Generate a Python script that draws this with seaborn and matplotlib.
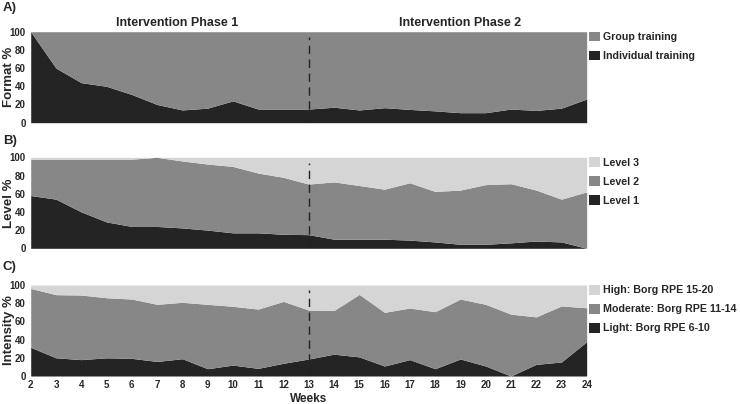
import matplotlib
matplotlib.use("Agg")
import matplotlib.pyplot as plt
from matplotlib.patches import Patch
import seaborn as sns
import pandas as pd

weeks = list(range(2, 25))

# Panel A: format (%)
individual = [100, 60, 44, 40, 31, 20, 14, 16, 24, 15, 15, 15, 17, 14, 16.5, 14.6, 13, 11, 11, 15, 13.5, 16, 26]
group = [100 - v for v in individual]

# Panel B: level (%)
level1 = [58, 54, 40, 29, 24, 24, 22.4, 20, 17, 17, 15.4, 15, 10, 10, 10, 9, 7, 4.4, 4.4, 6, 8, 7, 0]
level12_top = [98, 98, 98, 98, 98, 100, 96, 92.6, 90, 82.7, 78, 70.6, 73, 69, 65, 72, 62.5, 64, 70, 71, 64, 54, 62]
level2 = [t - b for t, b in zip(level12_top, level1)]
level3 = [100 - t for t in level12_top]

# Panel C: intensity (%)
light = [31.5, 20, 18, 20, 19.4, 16, 19, 8, 12, 8.4, 14, 18.7, 24, 21, 11, 18, 8, 18.7, 11, 0, 12.8, 15.4, 37.7]
lm_top = [96.3, 89.4, 89, 86, 84.6, 78.8, 81, 78.8, 76.6, 73.6, 82, 72.5, 72, 89.7, 70, 74.7, 70.7, 84.6, 78.8, 68, 65, 77, 75]
moderate = [t - b for t, b in zip(lm_top, light)]
high = [100 - t for t in lm_top]

ytick_vals = [0, 20, 40, 60, 80, 100]
phase_titles = ["Intervention Phase 1", "Intervention Phase 2"]

sns.set_theme(style="white")
plt.rcParams['font.family'] = ['Liberation Sans', 'DejaVu Sans']
plt.rcParams['font.weight'] = 'bold'

dark = "#242424"
mid = "#878787"
lite = "#d5d5d5"

fig = plt.figure(figsize=(7.4, 4.04), dpi=100)
left, width, h = 0.0415, 0.7513, 0.2252
bottoms = [0.6963, 0.3854, 0.0693]
letter_y = [0.980, 0.651, 0.339]
axes = [fig.add_axes([left, b, width, h]) for b in bottoms]

df = pd.DataFrame({"week": weeks, "individual": individual, "group": group,
                   "level1": level1, "level2": level2, "level3": level3,
                   "light": light, "moderate": moderate, "high": high})

panels = [
    (["individual", "group"], [dark, mid], ["Group training", "Individual training"], [mid, dark], "Format %", "A)"),
    (["level1", "level2", "level3"], [dark, mid, lite], ["Level 3", "Level 2", "Level 1"], [lite, mid, dark], "Level %", "B)"),
    (["light", "moderate", "high"], [dark, mid, lite],
     ["High: Borg RPE 15-20", "Moderate: Borg RPE 11-14", "Light: Borg RPE 6-10"], [lite, mid, dark], "Intensity %", "C)"),
]

for i, (ax, (cols, colors, labels, lcolors, ylab, letter)) in enumerate(zip(axes, panels)):
    ax.stackplot(df["week"], *[df[c] for c in cols], colors=colors, linewidth=0)
    ax.set_xlim(2, 24)
    ax.set_ylim(0, 100)
    ax.set_yticks(ytick_vals)
    ax.set_yticklabels([str(v) for v in ytick_vals], fontsize=7, fontweight='bold')
    ax.tick_params(axis='y', length=0, pad=3.5)
    ax.set_ylabel(ylab, fontsize=9.5, fontweight='bold')
    ax.yaxis.set_label_coords(-0.0285, 0.5)
    ax.axvline(13, ymin=0, ymax=0.94, color="#222222", linestyle=(0, (6, 4)), linewidth=1)
    sns.despine(ax=ax, left=True, bottom=True)
    if i < 2:
        ax.set_xticks([])
    else:
        ax.set_xticks(weeks)
        ax.set_xticklabels([str(w) for w in weeks], fontsize=7, fontweight='bold')
        ax.tick_params(axis='x', length=0, pad=3)
        ax.set_xlabel("Weeks", fontsize=8.5, fontweight='bold', labelpad=2)
    handles = [Patch(facecolor=c, edgecolor='none') for c in lcolors]
    ax.legend(handles, labels, loc='upper left', bbox_to_anchor=(1.005, 1.0), frameon=False,
              prop={'size': 7.7, 'weight': 'bold'}, handlelength=1.0, handleheight=1.0,
              handletextpad=0.3, labelspacing=0.8, borderaxespad=0, borderpad=0)
    fig.text(0.004, letter_y[i], letter, fontsize=9.5, fontweight='bold', va='center', ha='left')

axes[0].text(7.8, 103, phase_titles[0], ha='center', va='bottom', fontsize=9, fontweight='bold')
axes[0].text(19.0, 103, phase_titles[1], ha='center', va='bottom', fontsize=9, fontweight='bold')

fig.savefig("out.png", dpi=100)
